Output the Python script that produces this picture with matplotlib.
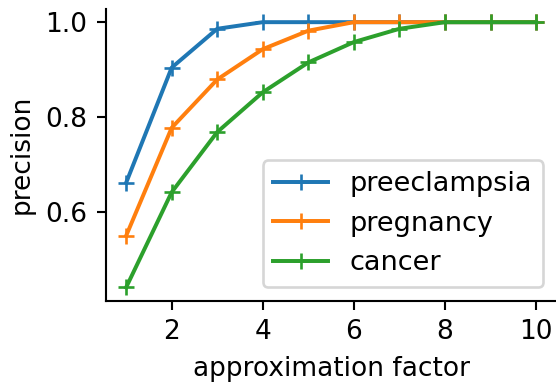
import matplotlib

matplotlib.use("Agg")
import matplotlib.pyplot as plt

factor = [1, 2, 3, 4, 5, 6, 7, 8, 9, 10]
preeclampsia = [0.661, 0.904, 0.986, 1.0, 1.0, 1.0, 1.0, 1.0, 1.0, 1.0]
pregnancy = [0.549, 0.777, 0.879, 0.943, 0.982, 1.0, 1.0, 1.0, 1.0, 1.0]
cancer = [0.440, 0.641, 0.768, 0.852, 0.915, 0.958, 0.986, 1.0, 1.0, 1.0]

series = [
    ("preeclampsia", preeclampsia, "#1f77b4"),
    ("pregnancy", pregnancy, "#ff7f0e"),
    ("cancer", cancer, "#2ca02c"),
]

# small figure rendered at high dpi, default matplotlib styling
dpi = 190
fig = plt.figure(figsize=(556 / dpi, 387 / dpi), dpi=dpi)
ax = fig.add_axes([0.19, 0.223, 0.811, 0.754])
for label, vals, color in series:
    ax.plot(factor, vals, marker="+", color=color, label=label)

ax.set_xticks([2, 4, 6, 8, 10])
ax.set_yticks([0.6, 0.8, 1.0])
ax.set_xlabel("approximation factor")
ax.set_ylabel("precision")
ax.spines["top"].set_visible(False)
ax.spines["right"].set_visible(False)
ax.legend(loc="lower right", fontsize=10.3)

fig.savefig("out.png", dpi=dpi)
